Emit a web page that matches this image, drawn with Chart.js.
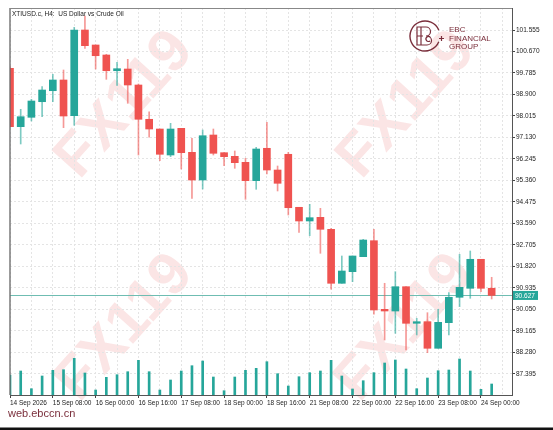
<!DOCTYPE html>
<html>
<head>
<meta charset="utf-8">
<script src="https://cdn.jsdelivr.net/npm/chart.js@4.4.1/dist/chart.umd.min.js"></script>
<style>
html, body { margin: 0; padding: 0; background: #fff; }
#wrap { position: relative; width: 553px; height: 430px; overflow: hidden; }
#chart { position: absolute; left: 0; top: 0; }
.title { position: absolute; left: 12px; top: 10px; font: 6.5px "Liberation Sans", Arial, sans-serif; color: #222; white-space: pre; }
.brand { position: absolute; left: 449px; top: 26px; font: 8px/8.6px "Liberation Sans", Arial, sans-serif; color: #7a2e3b; }
.site { position: absolute; left: 8px; top: 407px; font: 11px "Liberation Sans", Arial, sans-serif; color: #7a2e3b; }
</style>
</head>
<body>
<div id="wrap">
    <canvas id="chart" width="553" height="430"></canvas>
    <div class="title">XTIUSD.c, H4:  US Dollar vs Crude Oil</div>
    <div class="brand">EBC<br>FINANCIAL<br>GROUP</div>
    <div class="site">web.ebccn.cn</div>
</div>
<script>
// x tick labels, one every 4 bars (H4)
const xTickLabels = ['14 Sep 2026', '15 Sep 08:00', '16 Sep 00:00', '16 Sep 16:00', '17 Sep 08:00', '18 Sep 00:00',
    '18 Sep 16:00', '21 Sep 08:00', '22 Sep 00:00', '22 Sep 16:00', '23 Sep 08:00', '24 Sep 00:00'];

const priceTicks = [87.395, 88.280, 89.165, 90.050, 90.935, 91.820, 92.705, 93.590, 94.475,
    95.360, 96.245, 97.130, 98.015, 98.900, 99.785, 100.670, 101.555];

const opens = [99.978, 97.574, 97.961, 98.603, 99.056, 99.497, 98.027, 101.555, 100.938, 100.526,
    99.879, 99.949, 99.291, 97.879, 97.479, 96.409, 97.508, 96.520, 95.380, 97.232,
    96.504, 96.355, 96.108, 95.351, 96.685, 95.791, 96.438, 94.256, 93.692, 93.844,
    93.350, 91.127, 91.605, 92.222, 92.881, 90.056, 89.986, 90.987, 89.480, 89.546,
    88.451, 89.505, 90.551, 90.921, 92.115, 90.921];
const highs = [100.050, 98.290, 98.702, 99.221, 99.731, 99.908, 101.666, 102.131, 100.938, 100.555,
    100.225, 100.349, 99.332, 98.191, 97.479, 97.714, 97.508, 97.096, 97.438, 97.479,
    96.504, 96.574, 96.273, 96.726, 97.755, 95.956, 96.520, 94.256, 94.379, 94.214,
    93.391, 92.251, 92.251, 92.938, 93.350, 91.127, 91.605, 90.987, 89.686, 89.916,
    90.056, 90.740, 92.321, 92.457, 92.115, 91.374];
const lows = [97.550, 96.862, 97.809, 97.986, 98.603, 97.533, 97.632, 100.802, 99.949, 99.525,
    99.278, 98.537, 96.409, 97.138, 96.174, 96.339, 95.832, 94.626, 95.009, 96.409,
    95.968, 95.861, 94.585, 94.997, 95.627, 94.927, 93.939, 93.226, 93.086, 92.362,
    90.880, 91.127, 91.193, 92.222, 89.851, 88.793, 89.068, 88.381, 88.998, 88.270,
    88.451, 88.998, 90.164, 90.509, 90.781, 90.481];
const closes = [97.574, 97.986, 98.632, 99.085, 99.497, 98.014, 101.555, 100.909, 100.497, 99.879,
    99.962, 99.291, 97.879, 97.479, 96.438, 97.479, 96.504, 95.380, 97.203, 96.479,
    96.339, 96.092, 95.351, 96.656, 95.791, 95.244, 94.239, 93.692, 93.828, 93.350,
    91.127, 91.633, 92.251, 92.909, 90.028, 89.986, 90.987, 89.480, 89.546, 88.451,
    89.521, 90.551, 90.962, 92.115, 90.921, 90.627];
const volumes = [2000, 2400, 630, 1900, 2470, 2530, 3670, 2200, 500, 1770,
    2030, 2330, 3470, 2330, 500, 1500, 2400, 2930, 3400, 1800,
    430, 1800, 2470, 2670, 3330, 2130, 900, 1830, 2230, 2400,
    3470, 1900, 600, 1430, 2230, 3200, 3500, 2600, 630, 1700,
    2430, 2500, 3600, 2400, 570, 1100];

const BULL = '#26a69a';
const BEAR = '#ef5350';
const MAROON = '#7a2e3b';

const isBull = opens.map((o, i) => closes[i] >= o);

const watermarkPlugin = {
    id: 'watermark',
    beforeDraw(chart) {
        const ctx = chart.ctx;
        ctx.save();
        ctx.fillStyle = '#fff';
        ctx.fillRect(0, 0, chart.width, chart.height);
        ctx.font = 'bold 60px "Liberation Sans", Arial, sans-serif';
        ctx.fillStyle = 'rgba(230, 70, 70, 0.14)';
        ctx.textAlign = 'center';
        ctx.textBaseline = 'middle';
        [[125, 105], [407, 105], [125, 328], [405, 328]].forEach(([cx, cy]) => {
            ctx.save();
            ctx.translate(cx, cy);
            ctx.rotate(-48 * Math.PI / 180);
            ctx.fillText('FX119', 0, 0);
            ctx.restore();
        });
        ctx.restore();
    },
    beforeDatasetsDraw(chart) {
        // current price line
        const ctx = chart.ctx;
        const area = chart.chartArea;
        const y = Math.round(chart.scales.y.getPixelForValue(closes[closes.length - 1])) + 0.5;
        ctx.save();
        ctx.strokeStyle = '#6fbdb2';
        ctx.lineWidth = 1;
        ctx.setLineDash([]);
        ctx.beginPath();
        ctx.moveTo(area.left, y);
        ctx.lineTo(area.right, y);
        ctx.stroke();
        ctx.restore();
    },
    afterDraw(chart) {
        const ctx = chart.ctx;
        const area = chart.chartArea;
        ctx.save();
        // frame: left and top
        ctx.strokeStyle = '#666';
        ctx.lineWidth = 1.3;
        ctx.beginPath();
        ctx.moveTo(area.left, area.bottom);
        ctx.lineTo(area.left, area.top);
        ctx.stroke();
        ctx.strokeStyle = '#888';
        ctx.lineWidth = 1;
        ctx.beginPath();
        ctx.moveTo(area.left, area.top + 0.5);
        ctx.lineTo(area.right, area.top + 0.5);
        ctx.stroke();

        // price label
        const last = closes[closes.length - 1];
        const y = chart.scales.y.getPixelForValue(last);
        ctx.fillStyle = BULL;
        ctx.fillRect(area.right + 1, y - 4.5, 25, 9);
        ctx.fillStyle = '#fff';
        ctx.font = '6.5px "Liberation Sans", Arial, sans-serif';
        ctx.textBaseline = 'middle';
        ctx.fillText(last.toFixed(3), area.right + 3, y + 0.5);

        // logo mark
        ctx.strokeStyle = MAROON;
        ctx.lineWidth = 1.4;
        ctx.beginPath();
        ctx.arc(425, 36, 15, 0.4, Math.PI * 2 - 0.4);
        ctx.stroke();
        ctx.lineWidth = 1.2;
        ctx.beginPath();
        ctx.moveTo(424, 27); ctx.lineTo(417, 27); ctx.lineTo(417, 45); ctx.lineTo(424, 45);
        ctx.moveTo(417, 36); ctx.lineTo(423, 36);
        ctx.moveTo(421, 27); ctx.lineTo(421, 45);
        ctx.moveTo(421, 27); ctx.lineTo(426, 27);
        ctx.arc(426, 31.5, 4.5, -Math.PI / 2, Math.PI / 2);
        ctx.moveTo(421, 45); ctx.lineTo(427, 45);
        ctx.arc(427, 40.5, 4.5, Math.PI / 2, -Math.PI / 2, true);
        ctx.stroke();
        ctx.beginPath();
        ctx.arc(428.5, 39, 2.5, 0.9, Math.PI * 2 - 0.9, false);
        ctx.stroke();
        ctx.beginPath();
        ctx.moveTo(439, 38.5); ctx.lineTo(444, 38.5);
        ctx.moveTo(441.5, 36); ctx.lineTo(441.5, 41);
        ctx.stroke();

        // bottom frame
        ctx.fillStyle = '#111';
        ctx.fillRect(0, 427.5, chart.width, 2.5);
        ctx.restore();
    }
};

new Chart(document.getElementById('chart'), {
    type: 'bar',
    data: {
        datasets: [{
            label: 'Body',
            data: opens.map((o, i) => ({ x: i, y: [o, closes[i]] })),
            backgroundColor: isBull.map(b => b ? BULL : BEAR),
            barThickness: 7,
            minBarLength: 1,
            grouped: false,
            order: 0
        }, {
            label: 'Wick',
            data: lows.map((l, i) => ({ x: i, y: [l, highs[i]] })),
            backgroundColor: isBull.map(b => b ? 'rgba(38, 166, 154, 0.6)' : 'rgba(239, 83, 80, 0.6)'),
            barThickness: 1,
            minBarLength: 1,
            grouped: false,
            order: 1
        }, {
            label: 'Volume',
            data: volumes.map((v, i) => ({ x: i, y: v })),
            backgroundColor: BULL,
            barThickness: 2,
            grouped: false,
            yAxisID: 'yVol',
            order: 2
        }]
    },
    options: {
        responsive: false,
        animation: false,
        layout: { padding: { left: 10, top: 8, right: 0, bottom: 0 } },
        plugins: {
            legend: { display: false },
            tooltip: { enabled: false }
        },
        scales: {
            x: {
                type: 'linear',
                min: 0,
                max: 46.9,
                offset: false,
                grid: {
                    offset: false,
                    color: '#e4e4e4',
                    tickColor: ctx => (ctx.tick && ctx.tick.value % 4 === 0) ? '#444' : 'rgba(0,0,0,0)',
                    tickLength: 3,
                    tickBorderDash: []
                },
                border: { display: true, color: '#555', width: 1, dash: [2, 2] },
                ticks: {
                    stepSize: 2,
                    includeBounds: false,
                    autoSkip: false,
                    maxRotation: 0,
                    align: 'start',
                    padding: 1,
                    color: '#222',
                    font: { family: '"Liberation Sans", Arial, sans-serif', size: 6.5 },
                    callback: v => v % 4 === 0 ? (xTickLabels[v / 4] || '') : ''
                },
                afterFit: scale => { scale.height = 35; }
            },
            y: {
                type: 'linear',
                position: 'right',
                min: 86.528,
                max: 102.461,
                grid: {
                    color: '#e4e4e4',
                    tickColor: '#444',
                    tickLength: 3,
                    tickBorderDash: []
                },
                border: { display: true, color: '#555', width: 1, dash: [2, 2] },
                afterBuildTicks: scale => { scale.ticks = priceTicks.map(v => ({ value: v })); },
                ticks: {
                    padding: 1,
                    color: '#222',
                    font: { family: '"Liberation Sans", Arial, sans-serif', size: 6.5 },
                    callback: v => Number(v).toFixed(3)
                },
                afterFit: scale => { scale.width = 41; }
            },
            yVol: {
                type: 'linear',
                display: false,
                min: 0,
                max: 38700
            }
        }
    },
    plugins: [watermarkPlugin]
});
</script>
</body>
</html>
